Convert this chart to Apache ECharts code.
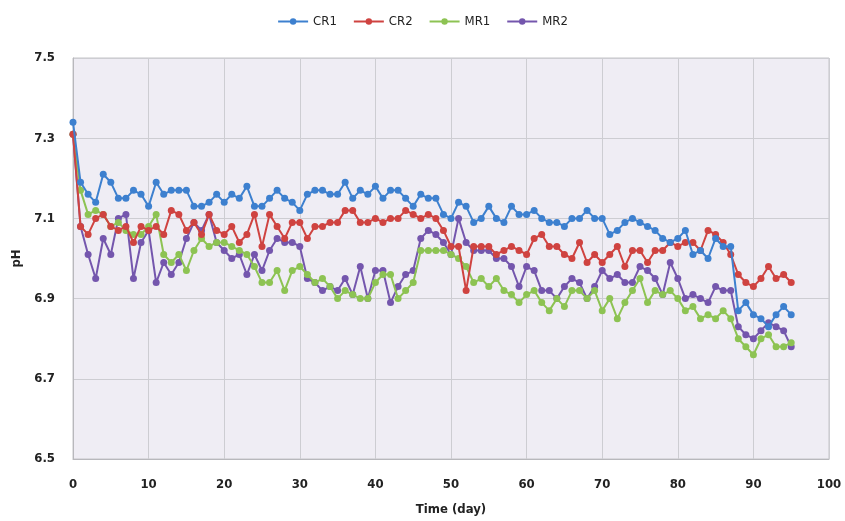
<!DOCTYPE html>
<html>
<head>
<meta charset="utf-8">
<script src="https://cdn.jsdelivr.net/npm/echarts@6/dist/echarts.min.js"></script>
<style>html,body{margin:0;padding:0;background:#fff}#c{width:845px;height:521px}</style>
</head>
<body>
<div id="c"></div>
<script>
const days = Array.from({length: 96}, (_, i) => i);
const seriesNames = ['CR1', 'CR2', 'MR1', 'MR2'];
const xTicks = [0, 10, 20, 30, 40, 50, 60, 70, 80, 90, 100];
const yTicks = [6.5, 6.7, 6.9, 7.1, 7.3, 7.5];

const CR1 = [7.34,7.19,7.16,7.14,7.21,7.19,7.15,7.15,7.17,7.16,7.13,7.19,7.16,7.17,7.17,7.17,7.13,7.13,7.14,7.16,
7.14,7.16,7.15,7.18,7.13,7.13,7.15,7.17,7.15,7.14,7.12,7.16,7.17,7.17,7.16,7.16,7.19,7.15,7.17,7.16,
7.18,7.15,7.17,7.17,7.15,7.13,7.16,7.15,7.15,7.11,7.10,7.14,7.13,7.09,7.10,7.13,7.10,7.09,7.13,7.11,
7.11,7.12,7.10,7.09,7.09,7.08,7.10,7.10,7.12,7.10,7.10,7.06,7.07,7.09,7.10,7.09,7.08,7.07,7.05,7.04,
7.05,7.07,7.01,7.02,7.00,7.05,7.03,7.03,6.87,6.89,6.86,6.85,6.83,6.86,6.88,6.86];

const CR2 = [7.31,7.08,7.06,7.10,7.11,7.08,7.07,7.08,7.04,7.08,7.07,7.08,7.06,7.12,7.11,7.07,7.09,7.06,7.11,7.07,
7.06,7.08,7.04,7.06,7.11,7.03,7.11,7.08,7.05,7.09,7.09,7.05,7.08,7.08,7.09,7.09,7.12,7.12,7.09,7.09,
7.10,7.09,7.10,7.10,7.12,7.11,7.10,7.11,7.10,7.07,7.03,7.03,6.92,7.03,7.03,7.03,7.01,7.02,7.03,7.02,
7.01,7.05,7.06,7.03,7.03,7.01,7.00,7.04,6.99,7.01,6.99,7.01,7.03,6.98,7.02,7.02,6.99,7.02,7.02,7.04,
7.03,7.04,7.04,7.02,7.07,7.06,7.04,7.01,6.96,6.94,6.93,6.95,6.98,6.95,6.96,6.94];

const MR1 = [7.31,7.17,7.11,7.12,7.11,7.08,7.09,7.07,7.06,7.06,7.08,7.11,7.01,6.99,7.01,6.97,7.02,7.05,7.03,7.04,
7.04,7.03,7.02,7.01,6.98,6.94,6.94,6.97,6.92,6.97,6.98,6.96,6.94,6.95,6.93,6.90,6.92,6.91,6.90,6.90,
6.94,6.96,6.96,6.90,6.92,6.94,7.02,7.02,7.02,7.02,7.01,7.00,6.98,6.94,6.95,6.93,6.95,6.92,6.91,6.89,
6.91,6.92,6.89,6.87,6.90,6.88,6.92,6.92,6.90,6.92,6.87,6.90,6.85,6.89,6.92,6.95,6.89,6.92,6.91,6.92,
6.90,6.87,6.88,6.85,6.86,6.85,6.87,6.85,6.80,6.78,6.76,6.80,6.81,6.78,6.78,6.79];

const MR2 = [7.31,7.08,7.01,6.95,7.05,7.01,7.10,7.11,6.95,7.04,7.07,6.94,6.99,6.96,6.99,7.05,7.09,7.07,7.11,7.04,
7.02,7.00,7.01,6.96,7.01,6.97,7.02,7.05,7.04,7.04,7.03,6.95,6.94,6.92,6.93,6.92,6.95,6.91,6.98,6.90,
6.97,6.97,6.89,6.93,6.96,6.97,7.05,7.07,7.06,7.04,7.01,7.10,7.04,7.02,7.02,7.02,7.00,7.00,6.98,6.93,
6.98,6.97,6.92,6.92,6.90,6.93,6.95,6.94,6.90,6.93,6.97,6.95,6.96,6.94,6.94,6.98,6.97,6.95,6.91,6.99,
6.95,6.90,6.91,6.90,6.89,6.93,6.92,6.92,6.83,6.81,6.80,6.82,6.84,6.83,6.82,6.78];

const colors = ['#3d80cf', '#cf4340', '#8dc353', '#7456ad'];
const values = [CR1, CR2, MR1, MR2];

const font = '"DejaVu Sans Condensed", "DejaVu Sans", sans-serif';
const chart = echarts.init(document.getElementById('c'), null, {renderer: 'canvas'});
chart.setOption({
  animation: false,
  backgroundColor: '#ffffff',
  color: colors,
  legend: {
    top: 10,
    left: 'center',
    itemWidth: 30,
    itemHeight: 8,
    itemGap: 16,
    textStyle: {fontFamily: font, fontSize: 13, color: '#222'},
    data: seriesNames
  },
  grid: {
    left: 73, right: 16, top: 58, bottom: 60,
    show: true,
    backgroundColor: '#efedf4',
    borderColor: '#c4c4c8',
    borderWidth: 1
  },
  xAxis: {
    type: 'value',
    min: xTicks[0], max: xTicks[xTicks.length - 1], interval: 10,
    name: 'Time (day)',
    nameLocation: 'middle',
    nameGap: 44,
    nameTextStyle: {fontFamily: font, fontSize: 13, fontWeight: 'bold', color: '#222'},
    axisLine: {show: true, lineStyle: {color: '#b8b8bc'}},
    axisTick: {show: false},
    axisLabel: {fontFamily: font, fontSize: 13, fontWeight: 'bold', color: '#222', margin: 19},
    splitLine: {show: true, lineStyle: {color: '#cdcdd2', width: 1}}
  },
  yAxis: {
    type: 'value',
    min: yTicks[0], max: yTicks[yTicks.length - 1], interval: 0.2,
    name: 'pH',
    nameLocation: 'middle',
    nameGap: 50,
    nameRotate: 90,
    nameTextStyle: {fontFamily: font, fontSize: 13, fontWeight: 'bold', color: '#222'},
    axisLine: {show: true, lineStyle: {color: '#b8b8bc'}},
    axisTick: {show: false},
    axisLabel: {fontFamily: font, fontSize: 13, fontWeight: 'bold', color: '#222', margin: 18,
      formatter: v => v.toFixed(1)},
    splitLine: {show: true, lineStyle: {color: '#cdcdd2', width: 1}}
  },
  series: seriesNames.map((n, i) => ({
    name: n,
    type: 'line',
    data: days.map((d, j) => [d, values[i][j]]),
    symbol: 'circle',
    symbolSize: 7,
    showAllSymbol: true,
    lineStyle: {width: 2, color: colors[i]},
    itemStyle: {color: colors[i]},
    z: 10 - i
  }))
});
</script>
</body>
</html>
